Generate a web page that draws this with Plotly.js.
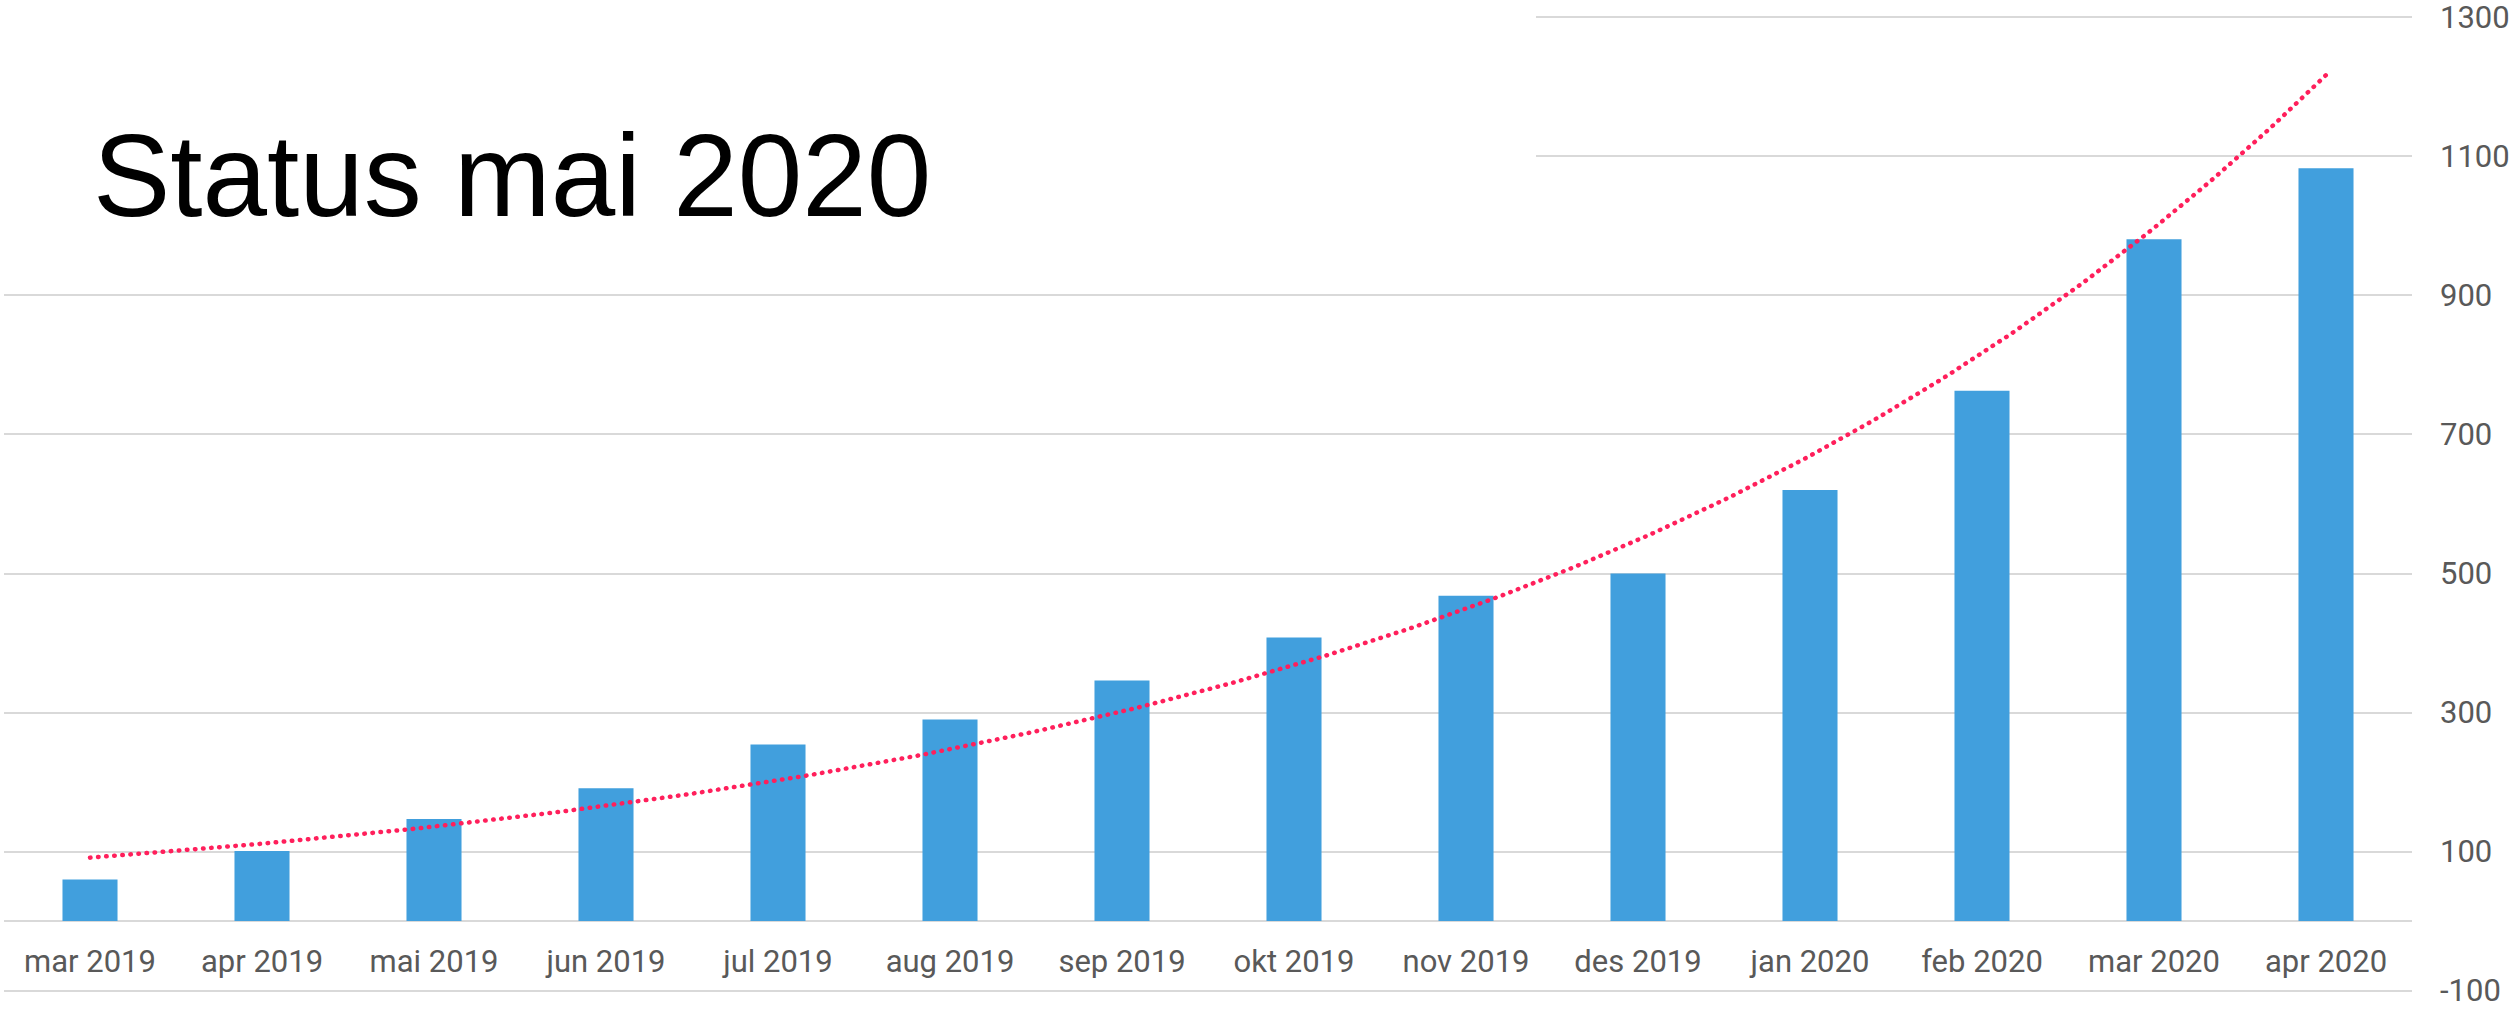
<!DOCTYPE html>
<html>
<head>
<meta charset="utf-8">
<script src="https://cdn.plot.ly/plotly-3.0.1.min.js"></script>
<style>
html,body{margin:0;padding:0;background:#fff;}
#chart{width:2517px;height:1009px;}
.scatterlayer .js-line{stroke-linecap:round;}
</style>
</head>
<body>
<div id="chart"></div>
<script>
// ---- data ----
const categories = ["mar 2019","apr 2019","mai 2019","jun 2019","jul 2019","aug 2019","sep 2019","okt 2019","nov 2019","des 2019","jan 2020","feb 2020","mar 2020","apr 2020"];
const values = [60, 101, 147, 191, 254, 290, 346, 408, 468, 500, 620, 763, 981, 1083];
const titleText = "Status mai 2020";
const yTickVals = [-100, 100, 300, 500, 700, 900, 1100, 1300];

// ---- exponential trendline (least squares on ln y), as in the spreadsheet ----
const idx = values.map((v, i) => i);
const n = values.length;
const lx = idx.reduce((a, b) => a + b, 0) / n;
const ly = values.reduce((a, v) => a + Math.log(v), 0) / n;
let sxy = 0, sxx = 0;
idx.forEach((x, i) => { sxy += (x - lx) * (Math.log(values[i]) - ly); sxx += (x - lx) * (x - lx); });
const b = sxy / sxx;
const a = Math.exp(ly - b * lx);
const trendX = [], trendY = [];
for (let k = 0; k <= (n - 1) * 20; k++) { const x = k / 20; trendX.push(x); trendY.push(a * Math.exp(b * x)); }

const W = 2517, H = 1009;
const margin = {l: 4, r: 105, t: 16, b: 17, pad: 0};
const plotW = W - margin.l - margin.r;
const plotH = H - margin.t - margin.b;
const yRange = [-102, 1302];

const traces = [
  {
    type: 'bar', x: categories, y: values,
    marker: {color: '#419FDD', line: {width: 0}},
    hoverinfo: 'x+y', showlegend: false
  },
  {
    type: 'scatter', mode: 'lines', x: trendX, y: trendY, xaxis: 'x2', yaxis: 'y',
    line: {color: '#FF1F5B', width: 4.5, dash: '0.5px,7.6px'},
    hoverinfo: 'skip', showlegend: false
  }
];

const layout = {
  width: W, height: H, margin: margin,
  paper_bgcolor: '#ffffff', plot_bgcolor: '#ffffff',
  bargap: 0.68,
  showlegend: false,
  xaxis: {
    type: 'category', categoryorder: 'array', categoryarray: categories,
    range: [-0.5, categories.length - 0.5],
    anchor: 'free', position: (0 - yRange[0]) / (yRange[1] - yRange[0]),
    showgrid: false, showline: false, zeroline: false, ticks: '',
    ticklabelstandoff: 19, ticklabeloverflow: 'allow',
    tickfont: {family: 'Roboto, sans-serif', size: 31, color: '#595959'},
    fixedrange: true
  },
  xaxis2: {
    type: 'linear', overlaying: 'x', anchor: 'y',
    range: [-0.5, categories.length - 0.5],
    visible: false, showgrid: false, zeroline: false, fixedrange: true
  },
  yaxis: {
    side: 'right', range: yRange,
    tickmode: 'array', tickvals: yTickVals, ticktext: yTickVals.map(String),
    showgrid: true, gridcolor: '#D9D9D9', gridwidth: 2,
    zeroline: true, zerolinecolor: '#D9D9D9', zerolinewidth: 2,
    showline: false, ticks: '', ticklabelstandoff: 27, ticklabeloverflow: 'allow',
    tickfont: {family: 'Roboto, sans-serif', size: 31, color: '#595959'},
    fixedrange: true
  },
  shapes: [{
    type: 'rect', xref: 'paper', yref: 'paper', layer: 'above',
    x0: -0.01, x1: (1536 - margin.l) / plotW,
    y0: 1 - (275 - margin.t) / plotH, y1: 1.03,
    fillcolor: '#ffffff', line: {width: 0}
  }],
  annotations: [{
    text: titleText, xref: 'paper', yref: 'paper',
    x: (91 - margin.l) / plotW, xanchor: 'left',
    y: 1 - (176 - margin.t) / plotH, yanchor: 'middle',
    showarrow: false,
    font: {family: '"Liberation Sans", Arial, sans-serif', size: 116, color: '#000000'}
  }]
};

Plotly.newPlot('chart', traces, layout, {displayModeBar: false, staticPlot: true});
</script>
</body>
</html>
